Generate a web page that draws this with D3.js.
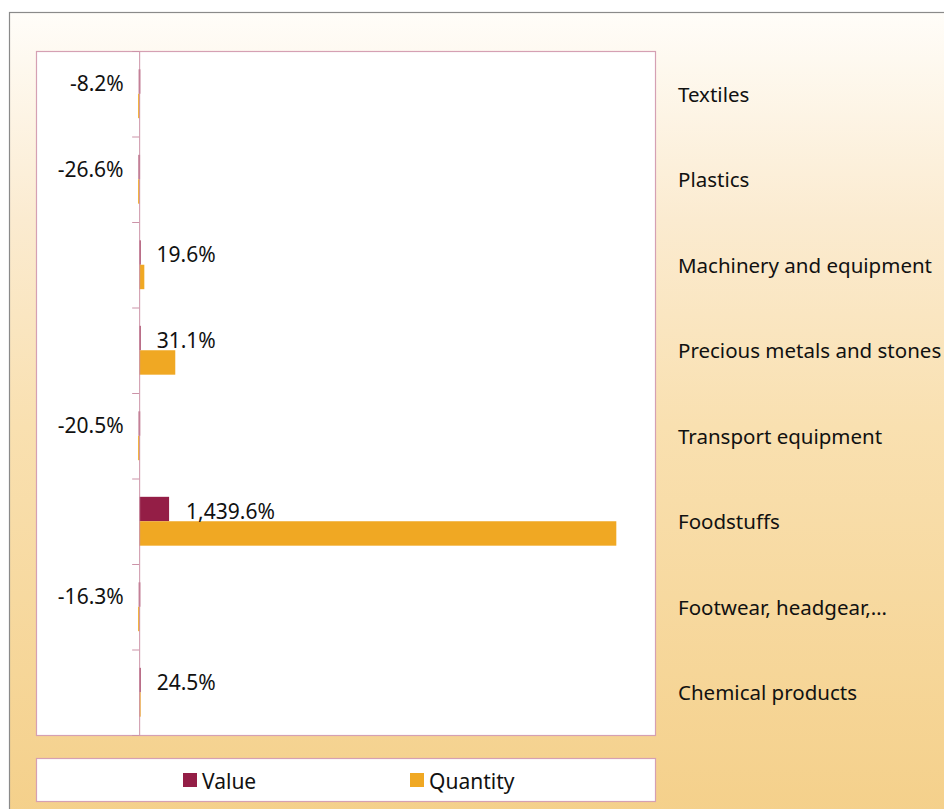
<!DOCTYPE html>
<style>
  body { margin: 0; background: #fff; }
  svg { display: block; }
  text { font-family: "Noto Sans", sans-serif; fill: #111; }
  .lbl { font-size: 21px; }
  .cat { font-size: 20.5px; }
  .legend text { font-size: 21px; }
</style>
<body>
</body>
<script src="https://cdn.jsdelivr.net/npm/d3@7"></script>
<script>
  const W = 944, H = 809;

  // categories, top to bottom
  const categories = ['Textiles', 'Plastics', 'Machinery and equipment', 'Precious metals and stones',
                      'Transport equipment', 'Foodstuffs', 'Footwear, headgear,…', 'Chemical products'];
  // bar lengths (change, arbitrary units)
  const valueSeries = [-4, -6, 4, 5, -5, 290, -4, 5];
  const quantitySeries = [-10, -10, 50, 350, -10, 4625, -10, 10];
  // data labels shown on the Value bars
  const valueLabels = ['-8.2%', '-26.6%', '19.6%', '31.1%', '-20.5%', '1,439.6%', '-16.3%', '24.5%'];
  const seriesNames = ['Value', 'Quantity'];
  const colors = ['#941e46', '#f0a823'];

  const plot = {l: 36, r: 655, t: 51, b: 735};

  const svg = d3.select('body').append('svg').attr('width', W).attr('height', H);

  const grad = svg.append('defs').append('linearGradient')
    .attr('id', 'bg').attr('x1', 0).attr('y1', 0).attr('x2', 0).attr('y2', 1);
  [[0, '#fffdf9'], [0.25, '#fbebd0'], [0.5, '#f9e0b0'], [1, '#f4cf88']].forEach(([o, c]) =>
    grad.append('stop').attr('offset', o).attr('stop-color', c));

  // outer chart frame, runs off the right and bottom edge
  svg.append('rect')
    .attr('x', 9.5).attr('y', 12.5).attr('width', W + 20).attr('height', H + 20)
    .attr('fill', 'url(#bg)').attr('stroke', '#8a8a8a').attr('stroke-width', 1.2);

  // plot area
  svg.append('rect')
    .attr('x', plot.l + 0.5).attr('y', plot.t + 0.5)
    .attr('width', plot.r - plot.l).attr('height', plot.b - plot.t)
    .attr('fill', '#fff').attr('stroke', '#d5a0b3').attr('stroke-width', 1.2);

  const x = d3.scaleLinear().domain([-1000, 5000]).range([plot.l, plot.r]);
  const y = d3.scaleBand().domain(categories).range([plot.t, plot.b]).paddingInner(0).paddingOuter(0);
  const ySub = d3.scaleBand().domain(seriesNames).range([0, y.bandwidth()]).padding(0).paddingOuter(0.75);

  const rows = categories.map((c, i) => ({c, i, v: [valueSeries[i], quantitySeries[i]]}));

  const g = svg.append('g');

  // bars
  const grp = g.selectAll('g.row').data(rows).join('g')
    .attr('class', 'row')
    .attr('transform', d => `translate(0, ${y(d.c)})`);

  grp.selectAll('rect')
    .data(d => d.v.map((v, k) => ({v, k})))
    .join('rect')
    .attr('x', d => Math.min(x(0), x(d.v)))
    .attr('y', d => ySub(seriesNames[d.k]))
    .attr('width', d => Math.max(1.5, Math.abs(x(d.v) - x(0))))
    .attr('height', ySub.bandwidth())
    .attr('fill', d => colors[d.k]);

  // vertical axis with ticks on the left
  const axis = g.append('g').attr('transform', `translate(${x(0)}, 0)`)
    .call(d3.axisLeft(y).tickValues([]).tickSizeOuter(0));
  axis.select('.domain').attr('stroke', '#cc93a8');
  axis.selectAll('line.tk')
    .data(d3.range(categories.length + 1))
    .join('line')
    .attr('class', 'tk')
    .attr('x1', -7).attr('x2', 0)
    .attr('y1', i => plot.t + i * y.step() + 0.5)
    .attr('y2', i => plot.t + i * y.step() + 0.5)
    .attr('stroke', '#cc93a8');

  // data labels on value bars
  g.selectAll('text.lbl').data(rows).join('text')
    .attr('class', 'lbl')
    .attr('x', d => d.v[0] < 0 ? x(d.v[0]) - 15 : x(d.v[0]) + 17)
    .attr('y', d => y(d.c) + ySub('Value') + ySub.bandwidth() / 2 + 1.5)
    .attr('dominant-baseline', 'central')
    .attr('text-anchor', d => d.v[0] < 0 ? 'end' : 'start')
    .text(d => valueLabels[d.i]);

  // category names on the right
  g.selectAll('text.cat').data(categories).join('text')
    .attr('class', 'cat')
    .attr('x', 678)
    .attr('y', d => y(d) + y.bandwidth() / 2)
    .attr('dominant-baseline', 'central')
    .text(d => d);

  // legend
  const lg = svg.append('g').attr('class', 'legend');
  lg.append('rect')
    .attr('x', plot.l + 0.5).attr('y', 758.5).attr('width', plot.r - plot.l).attr('height', 43)
    .attr('fill', '#fff').attr('stroke', '#d5a0b3').attr('stroke-width', 1.2);
  const itemX = [183, 410];
  seriesNames.forEach((s, k) => {
    lg.append('rect').attr('x', itemX[k]).attr('y', 773).attr('width', 14).attr('height', 14)
      .attr('fill', colors[k]);
    lg.append('text').attr('x', itemX[k] + 19).attr('y', 780.5)
      .attr('dominant-baseline', 'central').text(s);
  });
</script>
